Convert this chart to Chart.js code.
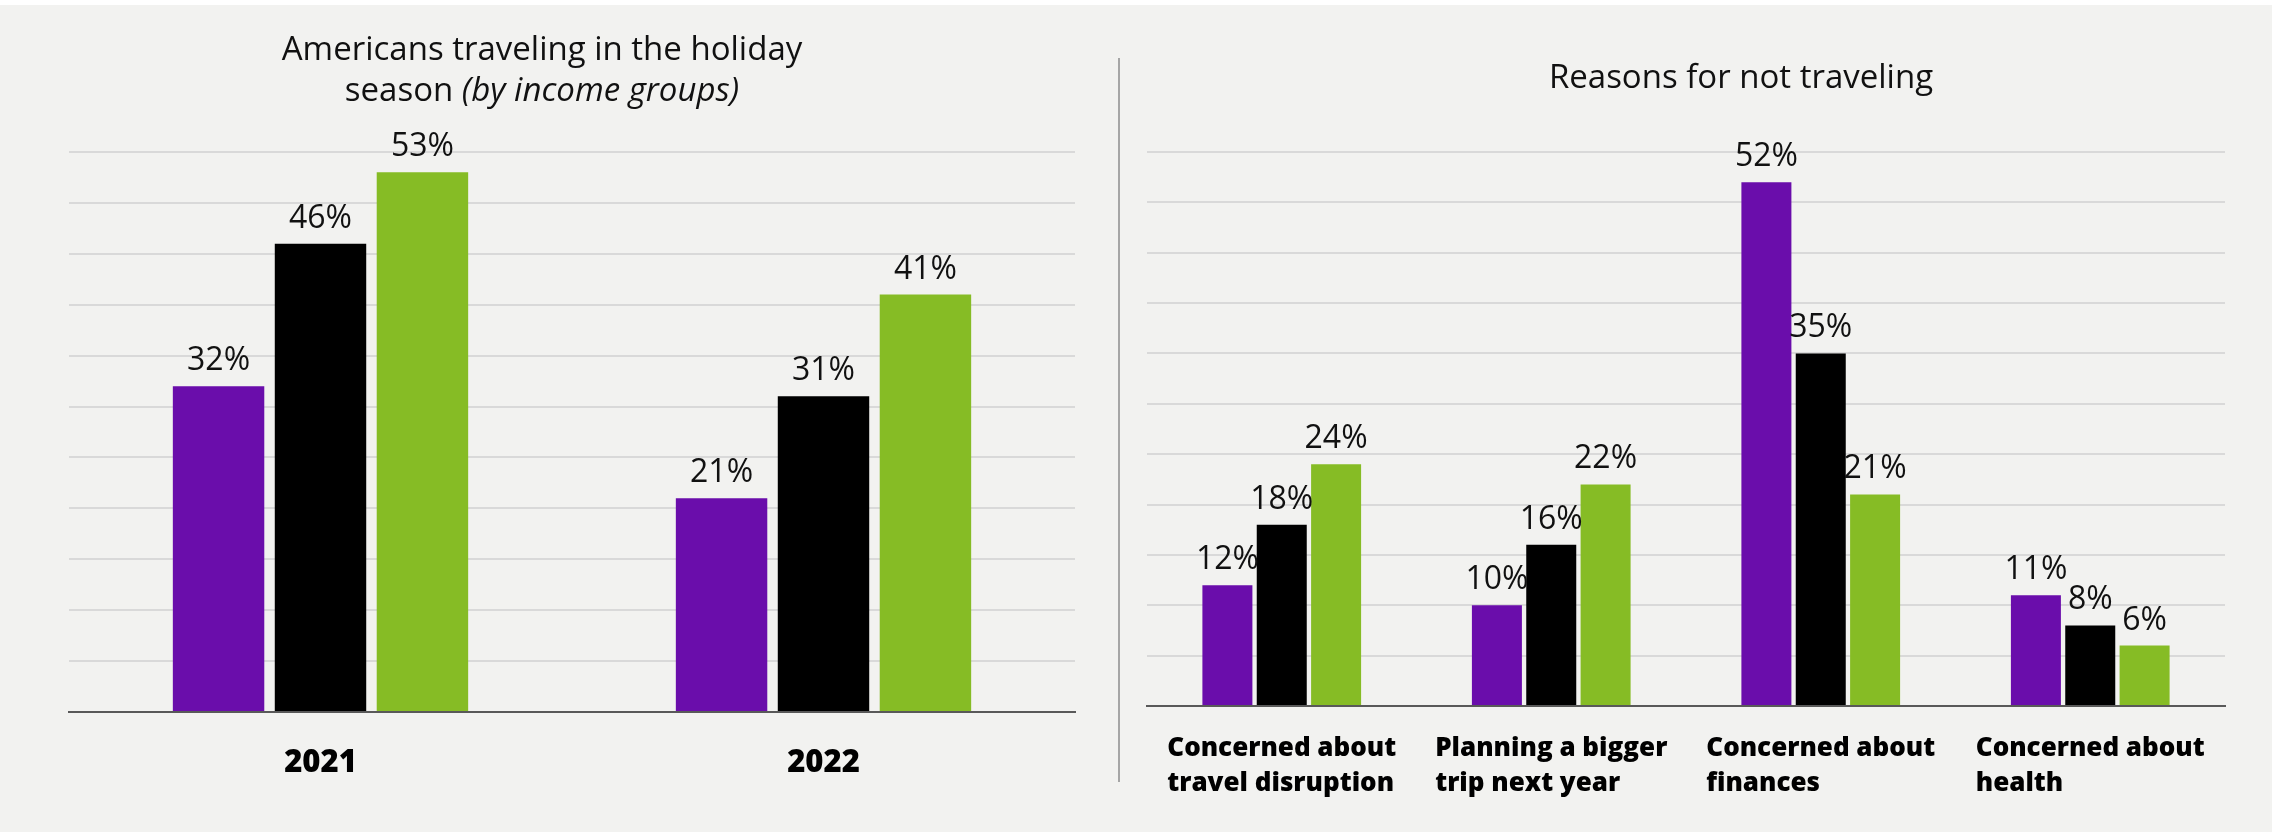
<!DOCTYPE html>
<html>
<head>
<meta charset="utf-8">
<title>Holiday travel by income group</title>
<script src="https://cdn.jsdelivr.net/npm/chart.js@4.4.1/dist/chart.umd.min.js"></script>
<style>
  html, body { margin: 0; padding: 0; background: #ffffff; }
  #page { position: relative; width: 2272px; height: 832px; overflow: hidden; }
  #panel { position: absolute; left: 0; top: 5px; width: 2272px; height: 827px; background: #f2f2f0; }
  #divider { position: absolute; left: 1118px; top: 58px; width: 2px; height: 724px; background: #a6a6a6; }
  canvas { position: absolute; top: 0; }
  #travelChart { left: 0; }
  #reasonChart { left: 1120px; }
</style>
</head>
<body>
<div id="page">
  <div id="panel"></div>
  <canvas id="travelChart" width="1085" height="832"></canvas>
  <div id="divider"></div>
  <canvas id="reasonChart" width="1152" height="832"></canvas>
</div>
<script>
// share of Americans traveling over the holidays, by income group
const yearLabels = ['2021', '2022'];
const travelLow = [32, 21];
const travelMid = [46, 31];
const travelHigh = [53, 41];

// reasons given for staying home, by income group
const reasonLabels = [
  ['Concerned about', 'travel disruption'],
  ['Planning a bigger', 'trip next year'],
  ['Concerned about', 'finances'],
  ['Concerned about', 'health']
];
const reasonLow = [12, 10, 52, 11];
const reasonMid = [18, 16, 35, 8];
const reasonHigh = [24, 22, 21, 6];

const yMax = 55;
const yStep = 5;

const PURPLE = '#6a0dab';
const BLACK = '#000000';
const GREEN = '#86bc25';
const FONT = '"Open Sans", "DejaVu Sans", sans-serif';

// value labels above each bar
const valueLabels = {
  id: 'valueLabels',
  afterDatasetsDraw(chart) {
    const ctx = chart.ctx;
    ctx.save();
    ctx.font = '400 32px ' + FONT;
    ctx.fillStyle = '#111111';
    ctx.textAlign = 'center';
    ctx.textBaseline = 'alphabetic';
    chart.data.datasets.forEach((ds, i) => {
      chart.getDatasetMeta(i).data.forEach((bar, j) => {
        ctx.fillText(ds.data[j] + '%', bar.x, bar.y - 16);
      });
    });
    ctx.restore();
  }
};

// category labels under the axis: block centred on the category, lines left aligned
const categoryLabels = {
  id: 'categoryLabels',
  afterDraw(chart, args, opts) {
    const ctx = chart.ctx;
    const scale = chart.scales.x;
    ctx.save();
    ctx.font = opts.font;
    ctx.fillStyle = '#000000';
    ctx.textBaseline = 'alphabetic';
    chart.data.labels.forEach((label, i) => {
      const lines = Array.isArray(label) ? label : [label];
      const w = Math.max(...lines.map(l => ctx.measureText(l).width));
      const x = scale.getPixelForValue(i);
      lines.forEach((line, k) => {
        if (opts.align === 'left') {
          ctx.textAlign = 'left';
          ctx.fillText(line, x - w / 2, opts.top + k * opts.lineHeight);
        } else {
          ctx.textAlign = 'center';
          ctx.fillText(line, x, opts.top + k * opts.lineHeight);
        }
      });
    });
    ctx.restore();
  }
};

// chart heading, supports an italic run inside a line
const heading = {
  id: 'heading',
  afterDraw(chart, args, opts) {
    const ctx = chart.ctx;
    ctx.save();
    ctx.fillStyle = '#111111';
    ctx.textBaseline = 'alphabetic';
    ctx.textAlign = 'left';
    opts.lines.forEach((parts, k) => {
      const widths = parts.map(p => {
        ctx.font = (p.italic ? 'italic ' : '') + '400 ' + opts.size + 'px ' + FONT;
        return ctx.measureText(p.text).width;
      });
      let x = opts.centerX - widths.reduce((a, b) => a + b, 0) / 2;
      parts.forEach((p, n) => {
        ctx.font = (p.italic ? 'italic ' : '') + '400 ' + opts.size + 'px ' + FONT;
        ctx.fillText(p.text, x, opts.top + k * opts.lineHeight);
        x += widths[n];
      });
    });
    ctx.restore();
  }
};

function buildChart(canvasId, labels, low, mid, high, cfg) {
  return new Chart(document.getElementById(canvasId), {
    type: 'bar',
    data: {
      labels: labels,
      datasets: [
        { label: 'Lower income', data: low, backgroundColor: PURPLE },
        { label: 'Middle income', data: mid, backgroundColor: BLACK },
        { label: 'Higher income', data: high, backgroundColor: GREEN }
      ]
    },
    options: {
      responsive: false,
      animation: false,
      devicePixelRatio: 1,
      categoryPercentage: cfg.categoryPercentage,
      barPercentage: cfg.barPercentage,
      layout: { padding: cfg.padding },
      scales: {
        x: {
          grid: { display: false, drawTicks: false },
          border: { display: true, color: '#595959', width: 2, z: 1 },
          ticks: { display: false }
        },
        y: {
          min: 0,
          max: yMax,
          ticks: { display: false, stepSize: yStep },
          grid: { color: '#d9d9d9', lineWidth: 2, drawTicks: false },
          border: { display: false }
        }
      },
      plugins: {
        legend: { display: false },
        tooltip: { enabled: false },
        title: { display: false },
        heading: cfg.heading,
        categoryLabels: cfg.categoryLabels
      }
    },
    plugins: [valueLabels, categoryLabels, heading]
  });
}

buildChart('travelChart', yearLabels, travelLow, travelMid, travelHigh, {
  categoryPercentage: 0.608,
  barPercentage: 0.897,
  padding: { left: 69, right: 10, top: 152, bottom: 120 },
  heading: {
    size: 33,
    centerX: 542,
    top: 60,
    lineHeight: 41,
    lines: [
      [{ text: 'Americans traveling in the holiday' }],
      [{ text: 'season ' }, { text: '(by income groups)', italic: true }]
    ]
  },
  categoryLabels: { font: '800 31px ' + FONT, top: 772, lineHeight: 35, align: 'center' }
});

buildChart('reasonChart', reasonLabels, reasonLow, reasonMid, reasonHigh, {
  categoryPercentage: 0.605,
  barPercentage: 0.92,
  padding: { left: 27, right: 47, top: 152, bottom: 126 },
  heading: {
    size: 33,
    centerX: 621,
    top: 88,
    lineHeight: 41,
    lines: [[{ text: 'Reasons for not traveling' }]]
  },
  categoryLabels: { font: '800 26px ' + FONT, top: 756, lineHeight: 35, align: 'left' }
});
</script>
</body>
</html>
